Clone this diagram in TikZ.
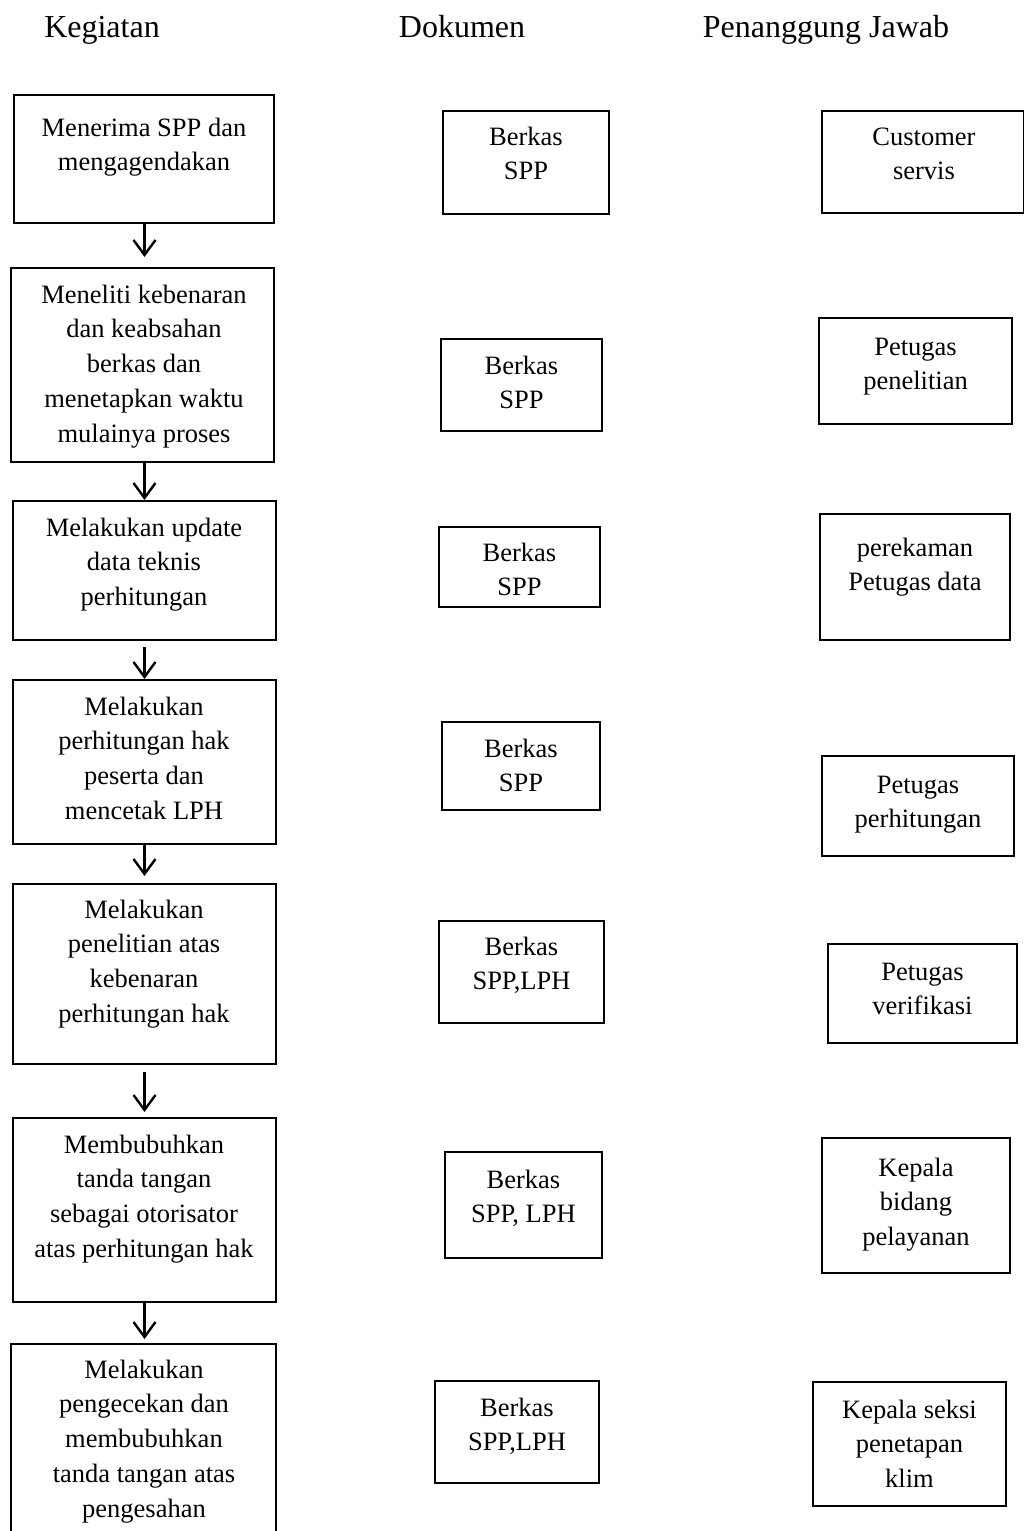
\documentclass[tikz,border=0pt]{standalone}
\usepackage{fontspec}
\setmainfont{Liberation Serif}
\usetikzlibrary{arrows.meta}
\newcommand\tbx[1]{\parbox[t]{300pt}{\centering #1}}
\begin{document}
\begin{tikzpicture}[x=1pt,y=-1pt,
  box/.style={draw, line width=2pt, inner sep=0pt},
  txt/.style={anchor=base, inner sep=0pt, font=\fontsize{26.5pt}{34.8pt}\selectfont},
  hdr/.style={anchor=base, inner sep=0pt, font=\fontsize{32pt}{38pt}\selectfont},
  arr/.style={line width=2.4pt, -{Straight Barb[length=15pt,width=22pt]}}]
\useasboundingbox (0,0) rectangle (1023,1531);

% headers
\node[hdr] (h1) at (102,37) {Kegiatan};
\node[hdr] (h2) at (462,37) {Dokumen};
\node[hdr] (h3) at (826,37) {Penanggung Jawab};

% left column (Kegiatan)
\node[box, minimum width=260pt, minimum height=128pt] (L1) at (144,159) {};
\node[box, minimum width=263pt, minimum height=194pt] (L2) at (142.5,365) {};
\node[box, minimum width=263pt, minimum height=139pt] (L3) at (144.5,570.5) {};
\node[box, minimum width=263pt, minimum height=164pt] (L4) at (144.5,762) {};
\node[box, minimum width=263pt, minimum height=180pt] (L5) at (144.5,974) {};
\node[box, minimum width=263pt, minimum height=184pt] (L6) at (144.5,1210) {};
\node[box, minimum width=265pt, minimum height=201pt] (L7) at (143.5,1444.5) {};

\node[txt] (tL1) at (144,136) {\tbx{Menerima SPP dan\\mengagendakan}};
\node[txt] (tL2) at (144,303) {\tbx{Meneliti kebenaran\\dan keabsahan\\berkas dan\\menetapkan waktu\\mulainya proses}};
\node[txt] (tL3) at (144,536) {\tbx{Melakukan update\\data teknis\\perhitungan}};
\node[txt] (tL4) at (144,715) {\tbx{Melakukan\\perhitungan hak\\peserta dan\\mencetak LPH}};
\node[txt] (tL5) at (144,918) {\tbx{Melakukan\\penelitian atas\\kebenaran\\perhitungan hak}};
\node[txt] (tL6) at (144,1153) {\tbx{Membubuhkan\\tanda tangan\\sebagai otorisator\\atas perhitungan hak}};
\node[txt] (tL7) at (144,1378) {\tbx{Melakukan\\pengecekan dan\\membubuhkan\\tanda tangan atas\\pengesahan}};

% middle column (Dokumen)
\node[box, minimum width=166pt, minimum height=103pt] (M1) at (526,162.5) {};
\node[box, minimum width=161pt, minimum height=92pt] (M2) at (521.5,385) {};
\node[box, minimum width=161pt, minimum height=80pt] (M3) at (519.5,567) {};
\node[box, minimum width=158pt, minimum height=88pt] (M4) at (521,766) {};
\node[box, minimum width=165pt, minimum height=102pt] (M5) at (521.5,972) {};
\node[box, minimum width=157pt, minimum height=106pt] (M6) at (523.5,1205) {};
\node[box, minimum width=164pt, minimum height=102pt] (M7) at (517,1432) {};

\node[txt] (tM1) at (526,145) {\tbx{Berkas\\SPP}};
\node[txt] (tM2) at (521.5,374) {\tbx{Berkas\\SPP}};
\node[txt] (tM3) at (519.5,561) {\tbx{Berkas\\SPP}};
\node[txt] (tM4) at (521,757) {\tbx{Berkas\\SPP}};
\node[txt] (tM5) at (521.5,955) {\tbx{Berkas\\SPP,LPH}};
\node[txt] (tM6) at (523.5,1188) {\tbx{Berkas\\SPP, LPH}};
\node[txt] (tM7) at (517,1416) {\tbx{Berkas\\SPP,LPH}};

% right column (Penanggung Jawab)
\node[box, minimum width=202pt, minimum height=102pt] (R1) at (923,162) {};
\node[box, minimum width=193pt, minimum height=106pt] (R2) at (915.5,371) {};
\node[box, minimum width=190pt, minimum height=126pt] (R3) at (915,577) {};
\node[box, minimum width=192pt, minimum height=100pt] (R4) at (918,806) {};
\node[box, minimum width=189pt, minimum height=99pt] (R5) at (922.5,993.5) {};
\node[box, minimum width=188pt, minimum height=135pt] (R6) at (916,1205.5) {};
\node[box, minimum width=193pt, minimum height=124pt] (R7) at (909.5,1444) {};

\node[txt] (tR1) at (924,145) {\tbx{Customer\\servis}};
\node[txt] (tR2) at (915.5,355) {\tbx{Petugas\\penelitian}};
\node[txt] (tR3) at (915,556) {\tbx{perekaman\\Petugas data}};
\node[txt] (tR4) at (918,793) {\tbx{Petugas\\perhitungan}};
\node[txt] (tR5) at (922.5,980) {\tbx{Petugas\\verifikasi}};
\node[txt] (tR6) at (916,1176) {\tbx{Kepala\\bidang\\pelayanan}};
\node[txt] (tR7) at (909.5,1418) {\tbx{Kepala seksi\\penetapan\\klim}};

% connectors
\coordinate (ax) at (144.5,0);
\draw[arr, shorten >=10pt] (L1.south -| ax) -- (L2.north -| ax);
\draw[arr] (L2.south -| ax) -- (L3.north -| ax);
\draw[arr, shorten <=6pt] (L3.south -| ax) -- (L4.north -| ax);
\draw[arr, shorten >=7pt] (L4.south -| ax) -- (L5.north -| ax);
\draw[arr, shorten <=7pt, shorten >=5pt] (L5.south -| ax) -- (L6.north -| ax);
\draw[arr, shorten >=4pt] (L6.south -| ax) -- (L7.north -| ax);
\end{tikzpicture}
\end{document}
